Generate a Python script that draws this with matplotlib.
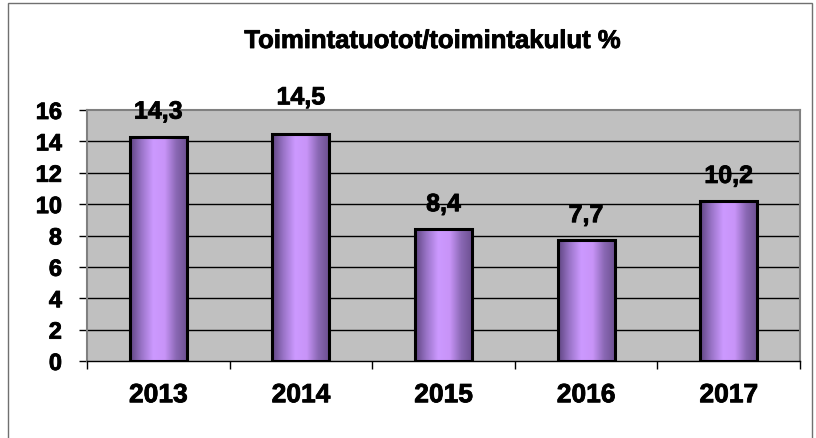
import matplotlib
matplotlib.use("Agg")
import matplotlib.pyplot as plt
import matplotlib.patheffects as pe
import numpy as np
from matplotlib.colors import LinearSegmentedColormap
from matplotlib.patches import Rectangle

years = ["2013", "2014", "2015", "2016", "2017"]
values = [14.3, 14.5, 8.4, 7.7, 10.2]
value_labels = ["14,3", "14,5", "8,4", "7,7", "10,2"]
y_ticks = [0, 2, 4, 6, 8, 10, 12, 14, 16]

# extra lift (points) of the labels, 2014 label was moved up in the original
label_lift = [0, 8, 0, 0, 0]

FONT = "Liberation Sans"
W, H = 816, 438
HEAVY = [pe.withStroke(linewidth=0.6, foreground="black")]

fig = plt.figure(figsize=(W / 100, H / 100), dpi=100)
fig.patch.set_facecolor("white")

# outer chart frame
fig.add_artist(Rectangle((8 / W, -0.02), 804 / W, 1.02 - 3 / H,
                         transform=fig.transFigure, fill=False,
                         edgecolor="#707070", linewidth=1.0))

ax = fig.add_axes([87 / W, 1 - 361 / H, (800 - 87) / W, (361 - 110) / H])
ax.set_facecolor("#C0C0C0")

for y in y_ticks[1:-1]:
    ax.axhline(y, color="black", linewidth=1.0, zorder=1)

x = np.arange(len(years))
bars = ax.bar(x, values, width=0.4, color="none", edgecolor="black",
              linewidth=2.2, zorder=3)

# cylinder-like horizontal gradient inside each bar
cmap = LinearSegmentedColormap.from_list(
    "purp", ["#5E4580", "#9A74C8", "#CC99FF", "#C894F8", "#8A68B4", "#6A4E8E"])
grad = np.linspace(0, 1, 256).reshape(1, -1)
for b in bars:
    x0, w, h = b.get_x(), b.get_width(), b.get_height()
    im = ax.imshow(grad, cmap=cmap, aspect="auto",
                   extent=[x0, x0 + w, 0, h], zorder=2)
    im.set_clip_path(Rectangle((x0, 0), w, h, transform=ax.transData))

ax.set_xlim(-0.5, len(years) - 0.5)
ax.set_ylim(0, 16)

for xi, v, lab, lift in zip(x, values, value_labels, label_lift):
    ax.annotate(lab, (xi, v), xytext=(0, 13 + lift), textcoords="offset points",
                ha="center", va="baseline", fontsize=18, fontweight="bold",
                family=FONT, annotation_clip=False, zorder=5,
                path_effects=HEAVY)

ax.set_yticks(y_ticks)
ax.set_yticklabels([str(t) for t in y_ticks], fontsize=17,
                   fontweight="bold", family=FONT, path_effects=HEAVY)
ax.tick_params(axis="y", direction="out", length=6, width=1.0,
               color="black", pad=12)

ax.set_xticks(x)
ax.set_xticklabels(years, fontsize=19, fontweight="bold", family=FONT,
                   path_effects=HEAVY)
ax.tick_params(axis="x", length=0, pad=16)
ax.set_xticks(np.arange(len(years) + 1) - 0.5, minor=True)
ax.tick_params(axis="x", which="minor", direction="out", length=6,
               width=1.0, color="black")

for side in ["top", "right", "left"]:
    ax.spines[side].set_color("#808080")
    ax.spines[side].set_linewidth(1.5)
ax.spines["bottom"].set_color("black")
ax.spines["bottom"].set_linewidth(1.0)

fig.text(433 / W, 1 - 41 / H, "Toimintatuotot/toimintakulut %",
         ha="center", va="center", fontsize=18.5, fontweight="bold",
         family=FONT, path_effects=HEAVY)

fig.savefig("out.png", dpi=100)
